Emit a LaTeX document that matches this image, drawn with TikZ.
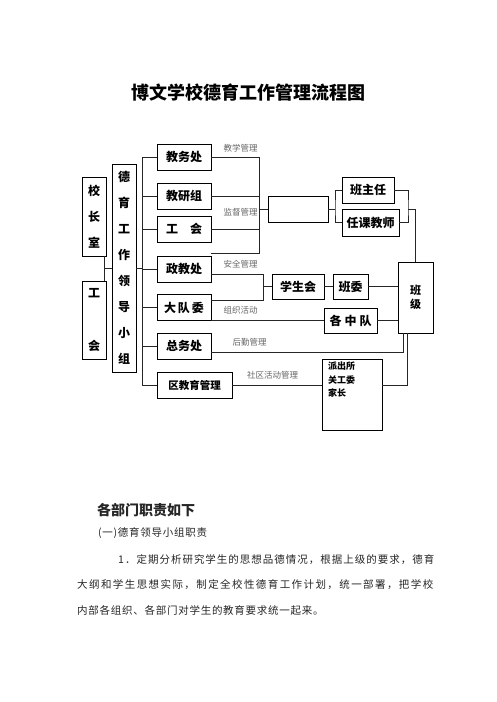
\documentclass[tikz,border=0pt]{standalone}
\usepackage{fontspec}
\setmainfont{Noto Sans CJK SC}
\newfontfamily\bodyfont{Noto Sans CJK SC}[LetterSpace=7]
\usetikzlibrary{positioning}

\begin{document}
\begin{tikzpicture}[
    x=1pt, y=-1pt,
    unit/.style={draw, line width=0.8pt, minimum width=54pt, minimum height=26pt, inner sep=0pt, font=\bfseries\fontsize{12}{14}\selectfont},
    vbox/.style={draw, line width=0.8pt, minimum width=24pt, inner sep=0pt, align=center, font=\bfseries\fontsize{12}{26}\selectfont},
    lbl/.style={inner sep=0pt, text=black!60, font=\fontsize{8.5}{10}\selectfont},
    link/.style={line width=0.7pt, draw=black!85},
    para/.style={anchor=west, inner sep=0pt, text=black!85, font=\bodyfont\fontsize{10.5}{12}\selectfont}
]
\fill[white] (0,0) rectangle (496,702);
\useasboundingbox (0,0) rectangle (496,702);

\node[font=\bfseries\fontsize{18}{20}\selectfont] (title) at (248,93) {博文学校德育工作管理流程图};

\node[vbox, minimum height=79pt] (head) at (94,216.5) {校\\长\\室};
\node[vbox, minimum height=78pt] (union) at (94,320) {工\\[27pt]会};
\node[vbox, minimum height=208pt] (group) at (124,268) {德\\育\\工\\作\\领\\导\\小\\组};

\node[unit] (jwc) at (184,157) {教务处};
\node[unit] (jyz) at (184,196) {教研组};
\node[unit] (ghr) at (184,229) {工\quad 会};
\node[unit] (zjc) at (184,269) {政教处};
\node[unit] (ddw) at (184,307.5) {大\,队\,委};
\node[unit] (zwc) at (184,346) {总务处};
\node[unit, minimum width=75pt, font=\bfseries\fontsize{10.5}{12}\selectfont] (qjy) at (194.5,385) {区教育管理};

\node[unit, minimum width=60pt] (blank) at (298,209) {};
\node[unit, minimum width=52pt] (bzr) at (368,190) {班主任};
\node[unit, minimum width=57pt, minimum height=27pt] (rkjs) at (370.5,222.5) {任课教师};
\node[unit, minimum width=52pt, minimum height=25pt] (xsh) at (298,286.5) {学生会};
\node[unit, minimum width=35pt, minimum height=25pt] (bw) at (350.5,286.5) {班委};
\node[unit, minimum width=53pt, minimum height=25pt] (gzd) at (350.5,320.5) {各\hspace{3pt}中\hspace{3pt}队};
\node[unit, minimum width=35pt, minimum height=71pt, align=center, font=\bfseries\fontsize{11}{14}\selectfont] (bj) at (415.5,297.5) {班\\级};
\node[unit, minimum width=60pt, minimum height=71pt] (pcs) at (352,394.5) {};
\node[anchor=north west, inner sep=0pt, align=left, font=\bfseries\fontsize{9}{13.5}\selectfont] (pcstext) at (328,362) {派出所\\关工委\\家长};

\node[lbl] (l1) at (240.5,148) {教学管理};
\node[lbl] (l2) at (240.5,212) {监督管理};
\node[lbl] (l3) at (240.5,264) {安全管理};
\node[lbl] (l4) at (240.5,310) {组织活动};
\node[lbl] (l5) at (249.5,342) {后勤管理};
\node[lbl] (l6) at (272.5,375) {社区活动管理};

\coordinate (lx) at (104,268);
\coordinate (spine) at (142,268);
\coordinate (ra) at (259,253);
\coordinate (rb) at (263,300);
\coordinate (rc) at (335,209);
\coordinate (rd) at (408,209);
\coordinate (re) at (403,352);
\coordinate (rf) at (407,385);

\draw[link] (head.south -| lx) -- (union.north -| lx);
\draw[link] (lx) -- (lx -| group.west);
\draw[link] (group.east |- spine) -- (spine);
\draw[link] (jwc.west -| spine) -- (qjy.west -| spine);
\foreach \n in {jwc,jyz,ghr,zjc,ddw,zwc,qjy}
    \draw[link] (\n.west -| spine) -- (\n.west);

\draw[link] (jwc.east) -| (ra) -- (ra -| jwc.east);
\draw[link] (jyz.east) -- (jyz.east -| ra);
\draw[link] (ghr.east) -- (ghr.east -| ra);
\draw[link] (blank.west -| ra) -- (blank.west);
\draw[link] (blank.east) -- (rc);
\draw[link] (bzr.west) -| (rc) |- (rkjs.west);
\draw[link] (bzr.east) -| (rd) |- (rkjs.east);
\draw[link] (rd) -| (bj.north);

\draw[link] ([yshift=-5pt]zjc.east) -| (rb) -- (rb -| zjc.east);
\draw[link] (xsh.west -| rb) -- (xsh.west);
\draw[link] (xsh) -- (bw);
\draw[link] (bw) -- (bw -| bj.west);
\draw[link] (gzd.west -| ddw.east) -- (gzd.west);
\draw[link] (gzd.east) -- (gzd.east -| bj.west);
\draw[link] ([yshift=-6pt]zwc.east) -| (re |- bj.south);
\draw[link] (qjy.east) -- (qjy.east -| pcs.west);
\draw[link] (qjy.east -| pcs.east) -| (rf |- bj.south);

\node[para, font=\bfseries\fontsize{14}{16}\selectfont] (duty) at (97,510) {各部门职责如下};
\node[para] (sub) at (98,533) {(一)德育领导小组职责};
\node[para] (p1) at (118,560) {\addfontfeature{LetterSpace=9.5}1．定期分析研究学生的思想品德情况，根据上级的要求，德育};
\node[para] (p2) at (77,585) {\addfontfeature{LetterSpace=13.5}大纲和学生思想实际，制定全校性德育工作计划，统一部署，把学校};
\node[para] (p3) at (77,610) {内部各组织、各部门对学生的教育要求统一起来。};
\end{tikzpicture}
\end{document}
